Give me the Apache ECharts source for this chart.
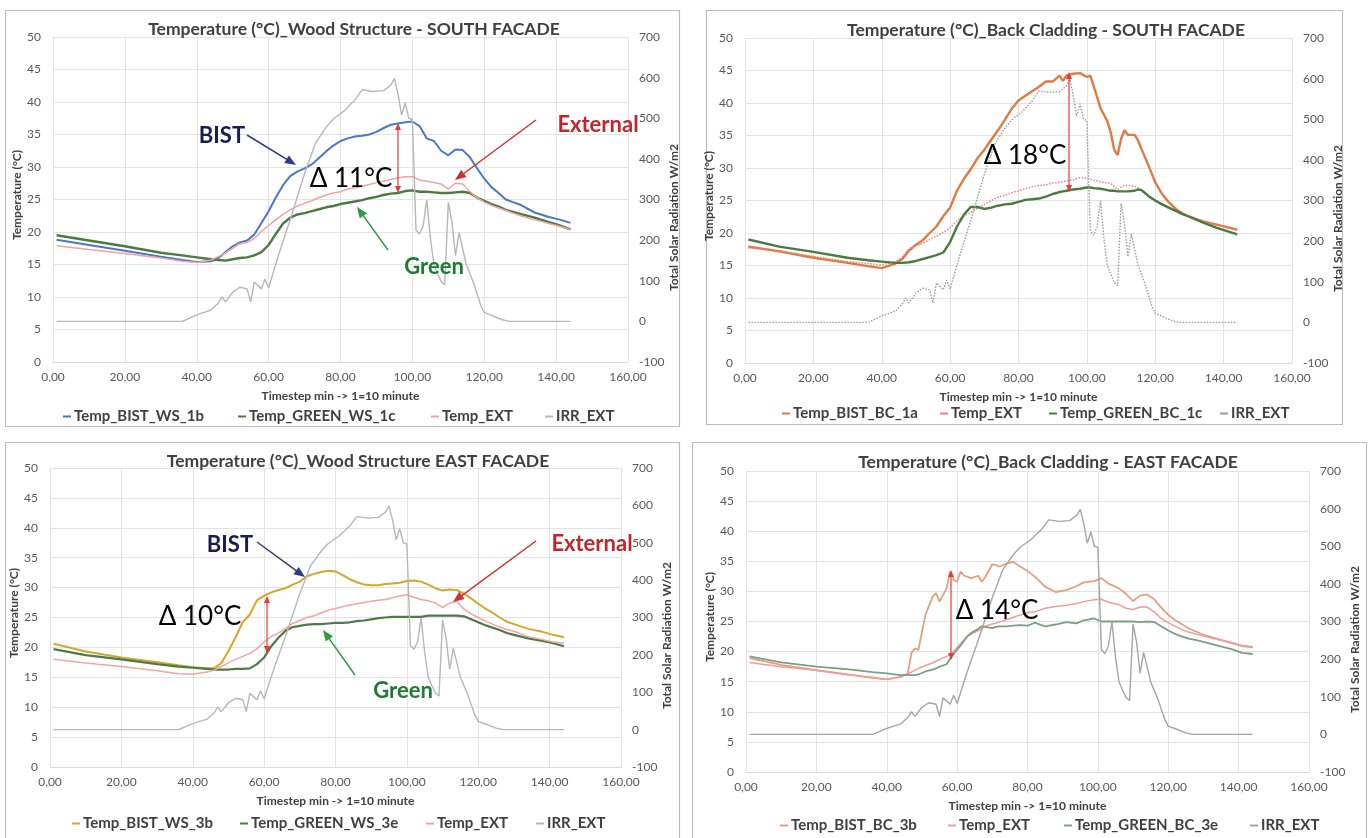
<!DOCTYPE html>
<html><head><meta charset="utf-8">
<script src="https://cdn.jsdelivr.net/npm/echarts/dist/echarts.min.js"></script>
<style>html,body{margin:0;padding:0;background:#fff}#c{width:1372px;height:838px}</style>
</head><body><div id="c"></div>
<script>
// ---------- DATA ----------
const X_TICKS = [0, 20, 40, 60, 80, 100, 120, 140, 160];

// Shared external irradiance (W/m2), secondary axis
const IRR_X = [1,20,36,38,40,42,44,46,47,48,50,52,54,55,56,58,59,60,61,63,66,70,73,76,78,81,84,86,89,92,94,95,96,97,98,99,100,101,102,103,104,105,106,107,108,109,110,111,112,113,115,117,119,120,122,125,127,144];
const IRR_Y = [0,0,0,8,16,22,28,45,60,48,72,84,80,48,97,80,104,82,112,170,250,364,438,478,498,518,545,570,566,568,582,598,560,508,538,500,497,225,215,235,299,205,140,118,98,90,293,245,162,218,140,95,40,22,15,4,0,0];

// Panel 1 : Wood Structure - SOUTH
const P1_X = [1,10,20,30,36,40,44,46,48,50,52,54,56,58,60,62,64,66,68,70,72,74,76,78,80,82,84,86,88,90,92,94,96,98,100,102,104,106,108,110,112,114,116,118,120,122,124,126,128,130,134,138,141,144];
const P1_BIST = [18.8,18.0,17.1,16.2,15.7,15.4,15.5,16.0,16.9,17.8,18.4,18.7,19.6,21.4,23.2,25.3,27.2,28.6,29.3,29.8,30.4,31.4,32.4,33.3,34.0,34.4,34.7,34.8,35.0,35.4,36.0,36.5,36.7,36.9,37.0,36.3,34.4,34.0,32.5,31.8,32.7,32.6,31.5,29.8,28.2,26.9,26.0,25.0,24.6,24.2,23.0,22.3,21.9,21.4];
const P1_GREEN = [19.5,18.7,17.8,16.8,16.4,16.1,15.8,15.7,15.6,15.8,16.0,16.1,16.4,16.9,18.0,19.7,21.3,22.2,22.7,22.9,23.2,23.5,23.8,24.0,24.3,24.5,24.7,24.9,25.2,25.4,25.7,25.9,26.0,26.3,26.4,26.2,26.2,26.1,26.0,26.0,26.1,26.2,26.0,25.3,24.8,24.3,23.9,23.4,23.1,22.8,22.2,21.5,21.0,20.4];
const P1_EXT = [17.9,17.3,16.7,16.0,15.5,15.3,15.7,16.2,16.8,17.5,18.2,18.4,19.0,20.1,21.0,21.9,22.7,23.4,24.0,24.4,24.8,25.3,25.7,26.0,26.2,26.6,26.8,27.0,27.3,27.6,27.8,28.1,28.3,28.5,28.5,28.0,27.8,27.6,27.4,26.6,27.5,27.4,26.2,25.3,24.6,24.1,23.7,23.3,22.9,22.5,21.9,21.3,20.9,20.4];

// Panel 2 : Back Cladding - SOUTH
const P2_X = [1,10,20,30,36,40,44,46,48,50,52,54,56,58,60,62,64,66,68,70,72,74,76,78,80,82,84,86,88,90,92,93,94,96,98,100,101,102,104,106,107,108,109,110,111,112,114,115,116,118,120,122,124,126,128,130,134,138,141,144];
const P2_BIST = [17.9,17.2,16.2,15.4,14.9,14.6,15.3,16.0,17.3,18.2,18.9,20.0,21.0,22.6,23.9,26.5,28.3,29.8,31.5,32.8,34.3,35.8,37.4,39.1,40.4,41.1,41.8,42.5,43.3,43.3,44.2,43.4,44.2,44.5,44.6,44.0,44.2,42.6,39.2,37.2,35.4,32.8,32.0,34.5,35.8,35.1,35.1,34.2,32.9,30.4,27.8,26.0,24.7,23.7,23.0,22.5,21.8,21.3,20.9,20.5];
const P2_EXT = [17.7,17.2,16.4,15.6,15.3,15.1,15.6,16.3,17.6,18.0,18.4,19.0,19.5,20.1,20.8,21.9,22.6,23.2,23.8,24.4,25.0,25.5,25.8,26.2,26.5,26.8,27.1,27.3,27.4,27.7,27.8,27.9,28.0,28.2,28.5,28.4,28.3,28.1,27.9,27.7,27.6,27.2,26.7,27.0,27.3,27.3,27.2,26.9,26.5,25.6,24.9,24.3,23.8,23.4,22.9,22.4,21.8,21.2,20.8,20.6];
const P2_GREEN = [19.0,17.9,17.1,16.2,15.8,15.6,15.4,15.4,15.5,15.7,16.0,16.3,16.6,17.0,18.6,21.0,22.8,24.0,24.0,23.7,23.9,24.2,24.4,24.5,24.8,25.1,25.2,25.3,25.6,26.0,26.3,26.4,26.5,26.7,26.8,27.0,27.0,26.9,26.8,26.6,26.5,26.5,26.4,26.4,26.4,26.4,26.5,26.7,26.6,25.7,25.0,24.4,23.9,23.4,22.9,22.5,21.6,20.8,20.3,19.8];

// Panel 3 : Wood Structure - EAST
const P3_X = [1,10,20,30,36,40,44,46,48,50,52,54,56,58,60,62,64,66,68,70,72,74,76,78,80,82,84,86,88,90,92,94,96,98,100,102,104,106,108,110,112,114,116,118,120,122,124,126,128,130,134,138,141,144];
const P3_BIST = [20.6,19.3,18.3,17.5,17.0,16.7,16.5,16.5,17.4,19.4,21.7,24.2,25.5,27.9,28.6,29.2,29.6,29.9,30.5,31.0,31.9,32.3,32.6,32.8,32.7,32.1,31.4,30.9,30.5,30.4,30.4,30.6,30.7,30.8,31.1,31.2,31.0,30.5,29.9,29.5,29.7,29.6,29.0,28.2,27.3,26.5,25.8,25.0,24.3,23.9,23.1,22.6,22.1,21.7];
const P3_GREEN = [19.7,18.7,18.0,17.2,16.8,16.6,16.4,16.3,16.3,16.3,16.4,16.4,16.5,17.2,18.3,20.2,21.6,22.8,23.4,23.6,23.8,23.9,23.9,24.0,24.1,24.1,24.2,24.4,24.5,24.7,24.9,25.0,25.1,25.1,25.1,25.1,25.1,25.3,25.3,25.3,25.3,25.3,25.2,24.7,24.2,23.7,23.3,22.9,22.4,22.1,21.5,21.1,20.7,20.2];
const P3_EXT = [18.0,17.4,16.8,16.1,15.6,15.5,15.9,16.2,16.8,17.4,18.0,18.5,19.0,19.8,20.9,21.8,22.4,23.2,24.0,24.5,25.0,25.3,25.8,26.2,26.5,26.8,27.1,27.3,27.5,27.7,27.9,28.0,28.3,28.6,28.8,28.4,28.0,27.8,27.4,26.7,27.4,27.7,26.4,25.6,25.0,24.4,23.9,23.4,23.0,22.7,21.8,21.3,20.9,20.7];

// Panel 4 : Back Cladding - EAST
const P4_X = [1,10,20,30,36,40,44,46,47,48,49,51,53,54,55,57,58,59,60,61,62,63,64,66,67,68,70,71,72,74,76,78,80,82,85,88,91,94,96,99,101,103,106,108,110,112,114,116,118,120,122,124,126,128,130,134,138,141,144];
const P4_BIST = [18.9,17.8,16.9,16.1,15.7,15.4,15.8,16.4,19.8,20.5,20.3,26.1,29.1,29.7,28.3,30.5,33.3,31.9,31.6,33.3,32.6,32.4,32.2,32.6,31.6,32.4,34.5,34.4,34.1,34.6,34.9,34.1,33.4,32.5,30.8,29.9,30.2,30.9,31.5,31.7,32.2,31.3,30.5,29.6,28.4,29.3,29.5,28.7,27.3,26.1,25.2,24.5,23.8,23.3,22.8,22.1,21.4,20.9,20.7];
const P4_EXT = [18.2,17.5,16.9,16.1,15.6,15.4,15.8,16.3,16.6,16.9,17.2,17.7,18.1,18.4,18.7,19.2,19.5,20.0,20.7,21.4,22.0,22.6,22.9,23.5,23.8,24.2,24.6,24.7,24.9,25.3,25.7,26.1,26.5,26.6,27.2,27.5,27.7,28.0,28.3,28.6,28.7,28.2,27.8,27.2,27.0,27.4,27.4,26.6,25.5,24.8,24.2,23.6,23.2,22.9,22.6,22.0,21.5,21.0,20.8];
const P4_GREEN = [19.2,18.2,17.5,17.0,16.6,16.4,16.1,16.1,16.1,16.1,16.2,16.7,17.0,17.2,17.5,17.9,18.8,19.6,20.3,21.0,21.8,22.6,23.1,23.8,24.2,24.1,23.9,24.1,24.2,24.2,24.3,24.4,24.3,24.8,24.2,24.5,24.9,24.7,25.2,25.5,25.0,25.0,25.0,25.0,25.0,24.9,25.0,24.9,24.2,23.5,22.9,22.5,22.1,21.9,21.6,21.0,20.4,19.8,19.6];

// ---------- LAYOUT / STYLE ----------
const FONT = 'Lato';
const pts = (X, Y) => X.map((x, i) => [x, Y[i]]);

const PANELS = [
  { title: 'Temperature (°C)_Wood Structure - SOUTH FACADE', titleXY: [349, 15],
    grid: { left: 53, top: 37, width: 575, height: 325 }, frame: [5, 10, 674, 416],
    series: [
      { name: 'Temp_BIST_WS_1b', X: P1_X, Y: P1_BIST, color: '#4a78c6', width: 2 },
      { name: 'Temp_GREEN_WS_1c', X: P1_X, Y: P1_GREEN, color: '#4b7a42', width: 2.4 },
      { name: 'Temp_EXT', X: P1_X, Y: P1_EXT, color: '#f2a3a3', width: 1.5 },
      { name: 'IRR_EXT', X: IRR_X, Y: IRR_Y, color: '#b7b7b7', width: 1.4, right: true }
    ],
    legendXY: [[63, 418], [238, 418], [431, 418], [545, 418]] },
  { title: 'Temperature (°C)_Back Cladding - SOUTH FACADE', titleXY: [1041, 16],
    grid: { left: 745, top: 38, width: 547, height: 325 }, frame: [706, 10, 636, 414],
    series: [
      { name: 'Temp_BIST_BC_1a', X: P2_X, Y: P2_BIST, color: '#dd7c41', width: 2.4 },
      { name: 'Temp_EXT', X: P2_X, Y: P2_EXT, color: '#ee8080', width: 1.5, type: [1.5, 1.5] },
      { name: 'Temp_GREEN_BC_1c', X: P2_X, Y: P2_GREEN, color: '#4a7a40', width: 2.4 },
      { name: 'IRR_EXT', X: IRR_X, Y: IRR_Y, color: '#9a9a9a', width: 1.4, type: [1.5, 1.5], right: true }
    ],
    legendXY: [[782, 415], [940, 415], [1049, 415], [1220, 415]] },
  { title: 'Temperature (°C)_Wood Structure EAST FACADE', titleXY: [353, 447],
    grid: { left: 50, top: 468, width: 571, height: 299 }, frame: [5, 442, 674, 420],
    series: [
      { name: 'Temp_BIST_WS_3b', X: P3_X, Y: P3_BIST, color: '#d4a62a', width: 2 },
      { name: 'Temp_GREEN_WS_3e', X: P3_X, Y: P3_GREEN, color: '#4d7a47', width: 2.2 },
      { name: 'Temp_EXT', X: P3_X, Y: P3_EXT, color: '#f2a5a5', width: 1.5 },
      { name: 'IRR_EXT', X: IRR_X, Y: IRR_Y, color: '#b7b7b7', width: 1.4, right: true }
    ],
    legendXY: [[72, 825], [240, 825], [426, 825], [536, 825]] },
  { title: 'Temperature (°C)_Back Cladding - EAST FACADE', titleXY: [1043, 448],
    grid: { left: 746, top: 471, width: 563, height: 301 }, frame: [692, 442, 674, 420],
    series: [
      { name: 'Temp_BIST_BC_3b', X: P4_X, Y: P4_BIST, color: '#e2a07e', width: 1.8 },
      { name: 'Temp_EXT', X: P4_X, Y: P4_EXT, color: '#f09c9c', width: 1.5 },
      { name: 'Temp_GREEN_BC_3e', X: P4_X, Y: P4_GREEN, color: '#7b9e85', width: 1.8 },
      { name: 'IRR_EXT', X: IRR_X, Y: IRR_Y, color: '#a5a5a5', width: 1.4, right: true }
    ],
    legendXY: [[780, 827], [948, 827], [1064, 827], [1250, 827]] }
];

// Annotations (pixel positions)
const NAVY = '#1b1b55', NAVY_ARROW = '#2d3b84', RED_TXT = '#c0262c', RED_ARROW = '#d2322f',
      GREEN_TXT = '#1e7a34', GREEN_ARROW = '#2e9b47', DELTA_RED = '#e63b3b';
const LABELS = [
  { t: 'BIST', x: 222, y: 136, c: NAVY, bold: true, s: 22 },
  { t: 'Δ 11°C', x: 351, y: 179, c: '#000', s: 26 },
  { t: 'External', x: 598, y: 125, c: RED_TXT, bold: true, s: 22 },
  { t: 'Green', x: 434, y: 267, c: GREEN_TXT, bold: true, s: 22 },
  { t: 'Δ 18°C', x: 1025, y: 156, c: '#000', s: 26 },
  { t: 'BIST', x: 230, y: 545, c: NAVY, bold: true, s: 22 },
  { t: 'Δ 10°C', x: 200, y: 617, c: '#000', s: 26 },
  { t: 'External', x: 592, y: 544, c: RED_TXT, bold: true, s: 22 },
  { t: 'Green', x: 403, y: 691, c: GREEN_TXT, bold: true, s: 22 },
  { t: 'Δ 14°C', x: 997, y: 611, c: '#000', s: 26 }
];
const ARROWS = [
  { p: [247, 135, 296, 165], c: NAVY_ARROW },
  { p: [398, 123, 398, 193], c: DELTA_RED, both: true, small: true },
  { p: [536, 120, 455, 180], c: RED_ARROW },
  { p: [388, 250, 357, 207], c: GREEN_ARROW },
  { p: [1069, 72, 1069, 192], c: DELTA_RED, both: true, small: true },
  { p: [257, 542, 305, 577], c: NAVY_ARROW },
  { p: [267, 596, 267, 653], c: DELTA_RED, both: true, small: true },
  { p: [536, 541, 453, 602], c: RED_ARROW },
  { p: [355, 675, 323, 630], c: GREEN_ARROW },
  { p: [951, 570, 951, 660], c: DELTA_RED, both: true, small: true }
];

function arrowEls(a) {
  const [x1, y1, x2, y2] = a.p;
  const hl = a.small ? 7 : 11, hw = a.small ? 6 : 9, lw = a.small ? 1.2 : 1.5;
  const dx = x2 - x1, dy = y2 - y1, L = Math.hypot(dx, dy), ux = dx / L, uy = dy / L, px = -uy, py = ux;
  const head = (tx, ty, ex, ey) => ({ type: 'polygon', z: 100, silent: true,
    shape: { points: [[tx, ty], [tx - ex * hl + px * hw / 2, ty - ey * hl + py * hw / 2], [tx - ex * hl - px * hw / 2, ty - ey * hl - py * hw / 2]] },
    style: { fill: a.c } });
  const sx = a.both ? x1 + ux * hl * 0.8 : x1, sy = a.both ? y1 + uy * hl * 0.8 : y1;
  const els = [{ type: 'line', z: 100, silent: true,
    shape: { x1: sx, y1: sy, x2: x2 - ux * hl * 0.8, y2: y2 - uy * hl * 0.8 },
    style: { stroke: a.c, lineWidth: lw } }, head(x2, y2, ux, uy)];
  if (a.both) els.push(head(x1, y1, -ux, -uy));
  return els;
}

const fmtX = v => v.toFixed(2).replace('.', ',');
const axisLbl = { color: '#595959', fontFamily: FONT, fontSize: 12 };
const nameStyle = { color: '#404040', fontFamily: FONT, fontSize: 12, fontWeight: 'bold' };

const option = { animation: false, backgroundColor: '#fff',
  title: [], grid: [], xAxis: [], yAxis: [], series: [], legend: [], graphic: [] };

PANELS.forEach((P, gi) => {
  option.title.push({ text: P.title, left: P.titleXY[0], top: P.titleXY[1], textAlign: 'center',
    textStyle: { fontFamily: FONT, fontSize: 17.5, fontWeight: 'bold', color: '#404040' } });
  option.grid.push(P.grid);
  option.xAxis.push({ type: 'value', gridIndex: gi, min: X_TICKS[0], max: X_TICKS[X_TICKS.length - 1], interval: 20,
    axisLabel: Object.assign({ formatter: fmtX, margin: 9 }, axisLbl),
    axisTick: { show: false }, axisLine: { lineStyle: { color: '#d9d9d9' } },
    splitLine: { show: true, lineStyle: { color: '#e3e3e3' } },
    name: 'Timestep min -> 1=10 minute', nameLocation: 'middle', nameGap: 28, nameTextStyle: nameStyle });
  option.yAxis.push({ type: 'value', gridIndex: gi, min: 0, max: 50, interval: 5, position: 'left',
    axisLabel: Object.assign({ margin: 12 }, axisLbl), axisTick: { show: false }, axisLine: { show: false },
    splitLine: { lineStyle: { color: '#e3e3e3' } },
    name: 'Temperature (°C)', nameLocation: 'middle', nameGap: 29, nameTextStyle: Object.assign({ padding: [0, 0, 0, 9] }, nameStyle) });
  option.yAxis.push({ type: 'value', gridIndex: gi, min: -100, max: 700, interval: 100, position: 'right',
    axisLabel: Object.assign({ margin: 11 }, axisLbl), axisTick: { show: false }, axisLine: { show: false },
    splitLine: { show: false },
    name: 'Total Solar Radiation W/m2', nameLocation: 'middle', nameGap: 34, nameTextStyle: Object.assign({ padding: [0, 36, 0, 0] }, nameStyle) });

  P.series.forEach((s, si) => {
    option.series.push({ name: s.name, type: 'line', xAxisIndex: gi, yAxisIndex: gi * 2 + (s.right ? 1 : 0),
      data: pts(s.X, s.Y), showSymbol: false, symbol: 'none', silent: true, z: 2 + si,
      lineStyle: { color: s.color, width: s.width, type: s.type || 'solid' }, itemStyle: { color: s.color } });
    option.legend.push({ left: P.legendXY[si][0], top: P.legendXY[si][1] - 9, padding: 0, selectedMode: false,
      icon: 'rect', itemWidth: 8, itemHeight: 2, itemGap: 4,
      textStyle: { fontFamily: FONT, fontSize: 15, fontWeight: 'bold', color: '#404040', padding: [0, 0, 0, -2] },
      data: [{ name: s.name, itemStyle: { color: s.color }, lineStyle: { color: s.color } }] });
  });
  const f = P.frame;
  option.graphic.push({ type: 'rect', z: 0, silent: true, shape: { x: f[0] + 0.5, y: f[1] + 0.5, width: f[2], height: f[3] },
    style: { fill: 'none', stroke: '#bcbcbc', lineWidth: 1.2 } });
});

LABELS.forEach(l => option.graphic.push({ type: 'text', z: 101, silent: true, x: l.x, y: l.y,
  style: { text: l.t, fill: l.c, font: (l.bold ? 'bold ' : '') + l.s + 'px ' + FONT, textAlign: 'center', textVerticalAlign: 'middle' } }));
ARROWS.forEach(a => arrowEls(a).forEach(e => option.graphic.push(e)));

const chart = echarts.init(document.getElementById('c'), null, { renderer: 'canvas' });
chart.setOption(option);
</script></body></html>
